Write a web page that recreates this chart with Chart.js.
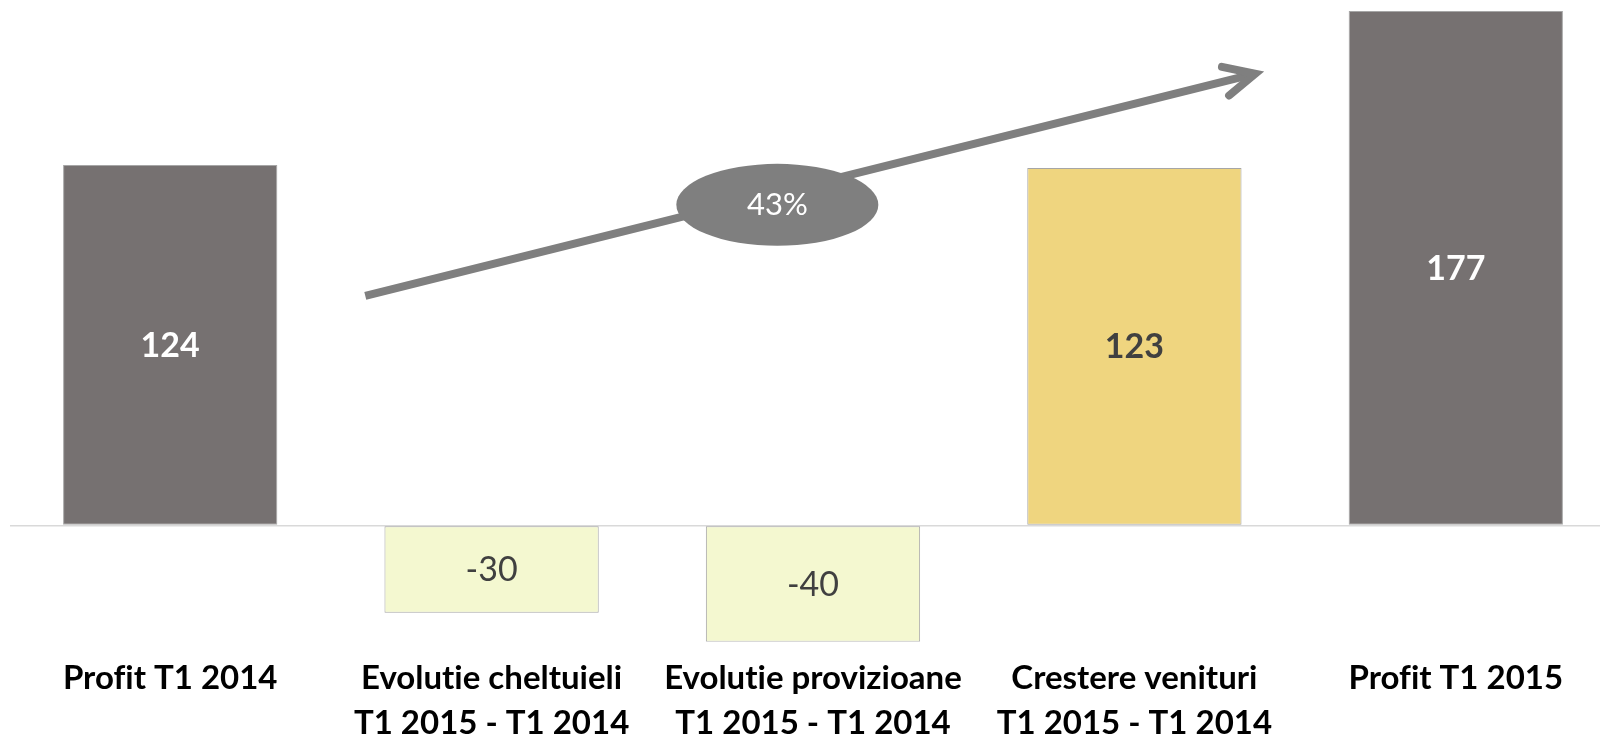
<!DOCTYPE html>
<html>
<head>
<meta charset="utf-8">
<script src="https://cdn.jsdelivr.net/npm/chart.js@4"></script>
<style>
  html, body { margin: 0; padding: 0; background: #ffffff; overflow: hidden; }
  #wrap { position: absolute; left: 0; top: 0; width: 1620px; height: 760px; }
</style>
</head>
<body>
<div id="wrap"><canvas id="c"></canvas></div>
<script>
// ---- data ----
const categories = [
  'Profit T1 2014',
  ['Evolutie cheltuieli', 'T1 2015 - T1 2014'],
  ['Evolutie provizioane', 'T1 2015 - T1 2014'],
  ['Crestere venituri', 'T1 2015 - T1 2014'],
  'Profit T1 2015'
];
const values = [124, -30, -40, 123, 177];
const barColors = ['#767171', '#F4F8D0', '#F4F8D0', '#EFD57F', '#767171'];
const labelColors = ['#ffffff', '#404040', '#404040', '#404040', '#ffffff'];
const labelWeights = ['bold', 'normal', 'normal', 'bold', 'bold'];
const growthText = '43%';
// annotation anchors in data units (category index, value)
const arrowFrom = [0.607, 79];
const arrowTo = [3.376, 155.4];
const bubbleAt = [1.889, 110.3];

const noLigatures = {
  id: 'noLigatures',
  beforeDraw(chart) {
    try { chart.ctx.textRendering = 'optimizeSpeed'; } catch (e) {}
  }
};

const valueLabels = {
  id: 'valueLabels',
  afterDatasetsDraw(chart) {
    const ctx = chart.ctx;
    const meta = chart.getDatasetMeta(0);
    ctx.save();
    ctx.textAlign = 'center';
    ctx.textBaseline = 'middle';
    meta.data.forEach((bar, i) => {
      const p = bar.getProps(['x', 'y', 'base'], true);
      ctx.fillStyle = labelColors[i];
      ctx.font = labelWeights[i] + ' 34px Lato';
      ctx.fillText(String(values[i]), p.x, (p.y + p.base) / 2 + 1);
    });
    ctx.restore();
  }
};

const growthArrow = {
  id: 'growthArrow',
  afterDatasetsDraw(chart) {
    const ctx = chart.ctx;
    const xs = chart.scales.x, ys = chart.scales.y;
    const x1 = xs.getPixelForValue(arrowFrom[0]), y1 = ys.getPixelForValue(arrowFrom[1]);
    const x2 = xs.getPixelForValue(arrowTo[0]), y2 = ys.getPixelForValue(arrowTo[1]);
    const ang = Math.atan2(y2 - y1, x2 - x1);
    ctx.save();
    ctx.strokeStyle = '#7f7f7f';
    ctx.lineWidth = 8;
    ctx.lineCap = 'butt';
    ctx.beginPath();
    ctx.moveTo(x1, y1);
    ctx.lineTo(x2 - 3 * Math.cos(ang), y2 - 3 * Math.sin(ang));
    ctx.stroke();
    ctx.lineCap = 'round';
    ctx.lineJoin = 'miter';
    const L = 34, spread = 0.45;
    ctx.beginPath();
    ctx.moveTo(x2 - L * Math.cos(ang - spread), y2 - L * Math.sin(ang - spread));
    ctx.lineTo(x2, y2);
    ctx.lineTo(x2 - L * Math.cos(ang + spread), y2 - L * Math.sin(ang + spread));
    ctx.stroke();
    // bubble
    const bx = xs.getPixelForValue(bubbleAt[0]), by = ys.getPixelForValue(bubbleAt[1]);
    ctx.fillStyle = '#7f7f7f';
    ctx.beginPath();
    ctx.ellipse(bx, by, 101, 41, 0, 0, Math.PI * 2);
    ctx.fill();
    ctx.fillStyle = '#ffffff';
    ctx.font = '400 31px Lato';
    ctx.textAlign = 'center';
    ctx.textBaseline = 'middle';
    ctx.fillText(growthText, bx, by);
    ctx.restore();
  }
};

new Chart(document.getElementById('c'), {
  type: 'bar',
  data: {
    labels: categories,
    datasets: [{
      data: values,
      backgroundColor: barColors,
      borderColor: '#a6a6a6',
      borderWidth: 1,
      borderSkipped: false,
      barPercentage: 1,
      categoryPercentage: 2 / 3
    }]
  },
  options: {
    responsive: true,
    maintainAspectRatio: false,
    animation: false,
    layout: { padding: { left: 9.5, right: 3.5, top: 2.24, bottom: 0 } },
    plugins: { legend: { display: false }, tooltip: { enabled: false } },
    scales: {
      x: {
        grid: { display: false },
        border: { display: false },
        ticks: {
          color: '#000000',
          font: { family: 'Lato', weight: 'bold', size: 33, lineHeight: 1.37 },
          padding: 6,
          maxRotation: 0,
          autoSkip: false
        },
        afterFit(axis) { axis.height = 118.2; }
      },
      y: {
        min: -40,
        max: 180,
        ticks: { display: false, stepSize: 20 },
        border: { display: false },
        grid: {
          drawTicks: false,
          lineWidth: 1.5,
          color: (c) => (c.tick && c.tick.value === 0 ? '#d9d9d9' : 'rgba(0,0,0,0)')
        },
        afterFit(axis) { axis.width = 0; }
      }
    }
  },
  plugins: [noLigatures, valueLabels, growthArrow]
});
</script>
</body>
</html>
